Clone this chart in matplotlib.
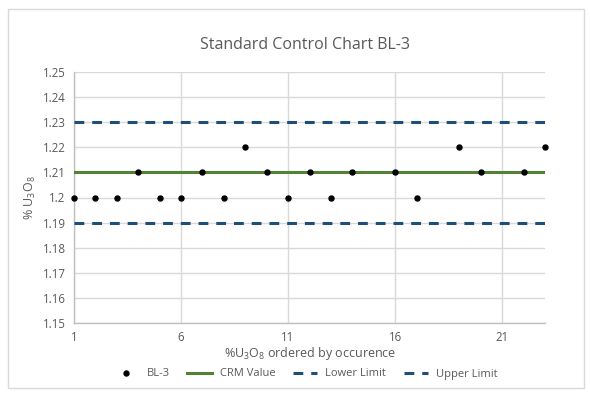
import matplotlib
matplotlib.use("Agg")
import matplotlib.pyplot as plt
from matplotlib.patches import Rectangle

# Data
sample_x = [1, 2, 3, 4, 5, 6, 7, 8, 9, 10, 11, 12, 13, 14, 16, 17, 19, 20, 22, 23]
bl3_values = [1.20, 1.20, 1.20, 1.21, 1.20, 1.20, 1.21, 1.20, 1.22, 1.21,
              1.20, 1.21, 1.20, 1.21, 1.21, 1.20, 1.22, 1.21, 1.21, 1.22]
x_range = [1, 23]
crm_value = 1.21
lower_limit = 1.19
upper_limit = 1.23
x_ticks = [1, 6, 11, 16, 21]
y_ticks = [1.15, 1.16, 1.17, 1.18, 1.19, 1.20, 1.21, 1.22, 1.23, 1.24, 1.25]
y_tick_labels = ["1.15", "1.16", "1.17", "1.18", "1.19", "1.2", "1.21", "1.22", "1.23", "1.24", "1.25"]

plt.rcParams['font.family'] = ['Open Sans', 'DejaVu Sans']
plt.rcParams['mathtext.default'] = 'regular'
text_color = '#595959'
grid_color = '#d9d9d9'

fig = plt.figure(figsize=(5.9, 3.95), dpi=100)
fig.patches.append(Rectangle((8/590, 1-388/395), (584-8)/590, (388-9)/395,
                             transform=fig.transFigure, fill=False,
                             edgecolor='#d9d9d9', linewidth=1.0))
ax = fig.add_axes([74/590, 1-323/395, (545-74)/590, (323-72)/395])

ax.set_xlim(x_range)
ax.set_ylim(1.15, 1.25)
ax.set_yticks(y_ticks)
ax.set_yticklabels(y_tick_labels)
ax.set_xticks(x_ticks)
ax.grid(True, color=grid_color, linewidth=1.0)
ax.set_axisbelow(True)
for s in ['top', 'right']:
    ax.spines[s].set_visible(False)
for s in ['left', 'bottom']:
    ax.spines[s].set_color('#bfbfbf')
    ax.spines[s].set_linewidth(1.0)
ax.tick_params(length=0, colors=text_color, labelsize=8.3, pad=6)

ax.plot(sample_x, bl3_values, linestyle='none', marker='o', markersize=3.6,
        color='black', label='BL-3', zorder=5, clip_on=False)
ax.plot(x_range, [crm_value, crm_value], color='#548235', linewidth=2.2, label='CRM Value', zorder=3)
ax.plot(x_range, [lower_limit, lower_limit], color='#1f4e79', linewidth=2.2,
        linestyle=(0, (3.2, 2.6)), label='Lower Limit', zorder=3)
ax.plot(x_range, [upper_limit, upper_limit], color='#1f4e79', linewidth=2.2,
        linestyle=(0, (3.2, 2.6)), label='Upper Limit', zorder=3)

fig.text(305/590, 1-45/395, 'Standard Control Chart BL-3', ha='center', va='center',
         fontsize=11.5, color=text_color)
fig.text(30/590, 1-198/395, '% U$_3$O$_8$', ha='center', va='center', rotation=90,
         fontsize=9, color=text_color)
fig.text(310/590, 1-354/395, '%U$_3$O$_8$ ordered by occurence', ha='center', va='center',
         fontsize=9, color=text_color)

leg = fig.legend(loc='center', bbox_to_anchor=(306/590, 1-374/395), ncol=4, frameon=False,
                 fontsize=8, labelcolor=text_color, handlelength=2.2, columnspacing=1.6,
                 handletextpad=0.7)

fig.savefig('out.png', dpi=100)
